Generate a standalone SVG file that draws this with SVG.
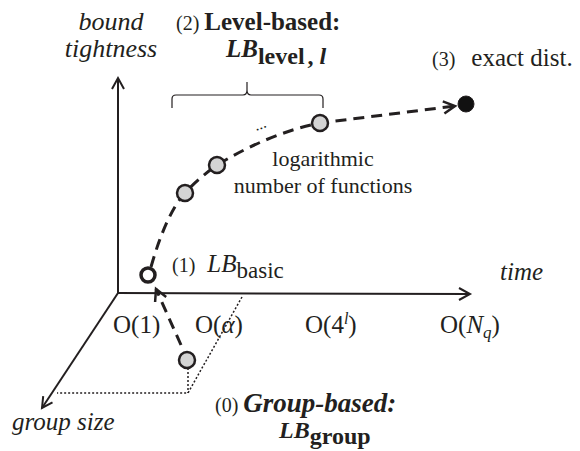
<svg xmlns="http://www.w3.org/2000/svg" width="580" height="451" viewBox="0 0 580 451">
<rect width="580" height="451" fill="#fff"/>
<g id="axes" stroke="#231f20" stroke-width="2" fill="none">
<line x1="118" y1="293" x2="118" y2="78"/>
<line x1="117" y1="293" x2="470" y2="294"/>
<line x1="118" y1="293" x2="42" y2="408"/>
<path d="M112,89 L118,78 L124,89"/>
<path d="M459,288 L470,294 L459,300"/>
<path d="M52.5,402.3 L42,408 L43.2,396.1"/>
</g>
<g id="guides" stroke="#231f20" stroke-width="1.5" fill="none" stroke-dasharray="2 2">
<path d="M242,297 L188,393 L57,393"/>
<path d="M188,368 L188,393"/>
</g>
<g id="connectors" stroke="#231f20" fill="none">
<path d="M181,345 L156,289" stroke-width="3" stroke-dasharray="11 7"/>
<path d="M151,267 C160,235 172,207 185,193 C195,182 206,173 217,165 C250,145 285,130 320,123 L455,106" stroke-width="3" stroke-dasharray="11 7"/>
<path d="M155.1,302 L156,289 L166.2,297" stroke-width="2.5"/>
<path d="M442.8,101.4 L455,106 L444.4,113.5" stroke-width="2.5"/>
</g>
<g id="brace">
<path d="M172,108 L172,99 Q172,95 176,95 L243,95 Q247,95 247,90 L247,82 L247,90 Q247,95 251,95 L319,95 Q323,95 323,99 L323,108" stroke="#231f20" stroke-width="1.2" fill="none"/>
</g>
<g id="nodes" fill="#d4d4d4" stroke="#231f20" stroke-width="2.5">
<g id="node0"><circle cx="187" cy="360" r="8"/></g>
<g id="node1"><circle cx="148" cy="275" r="7" fill="#fff" stroke-width="3.5"/></g>
<g id="nodeA"><circle cx="185" cy="193" r="8"/></g>
<g id="nodeB"><circle cx="217" cy="165" r="8"/></g>
<g id="nodeC"><circle cx="320" cy="123" r="8"/></g>
<g id="node3"><circle cx="466" cy="104" r="8" fill="#111" stroke-width="1"/></g>
</g>
<text font-family="Liberation Serif" style="font-family:'Liberation Serif',serif !important" fill="#231f20" font-size="26" font-style="italic" x="111" y="30" text-anchor="middle">bound</text>
<text font-family="Liberation Serif" style="font-family:'Liberation Serif',serif !important" fill="#231f20" font-size="26" font-style="italic" x="111" y="57" text-anchor="middle">tightness</text>
<text font-family="Liberation Serif" style="font-family:'Liberation Serif',serif !important" fill="#231f20" font-size="20" x="176" y="30">(2)<tspan font-weight="bold" font-size="25" dx="5">Level-based:</tspan></text>
<text font-family="Liberation Serif" style="font-family:'Liberation Serif',serif !important" fill="#231f20" font-size="25" font-weight="bold" x="226" y="57"><tspan font-style="italic">LB</tspan><tspan font-size="24" dy="7">level</tspan><tspan font-size="24" dx="3">, </tspan><tspan font-size="24" font-style="italic">l</tspan></text>
<text font-family="Liberation Serif" style="font-family:'Liberation Serif',serif !important" fill="#231f20" font-size="16" x="256" y="131" transform="rotate(-20 256 131)">...</text>
<text font-family="Liberation Serif" style="font-family:'Liberation Serif',serif !important" fill="#231f20" font-size="22" x="323" y="166" text-anchor="middle">logarithmic</text>
<text font-family="Liberation Serif" style="font-family:'Liberation Serif',serif !important" fill="#231f20" font-size="22" x="323" y="193" text-anchor="middle">number of functions</text>
<text font-family="Liberation Serif" style="font-family:'Liberation Serif',serif !important" fill="#231f20" font-size="20" x="432" y="66">(3)<tspan dx="16" font-size="25">exact dist.</tspan></text>
<text font-family="Liberation Serif" style="font-family:'Liberation Serif',serif !important" fill="#231f20" font-size="20" x="172" y="272">(1)<tspan font-style="italic" dx="12" font-size="25">LB</tspan><tspan dy="6" font-size="23">basic</tspan></text>
<text font-family="Liberation Serif" style="font-family:'Liberation Serif',serif !important" fill="#231f20" font-size="25" font-style="italic" x="500" y="280">time</text>
<text font-family="Liberation Serif" style="font-family:'Liberation Serif',serif !important" fill="#231f20" font-size="25" x="113" y="333">O(1)</text>
<text font-family="Liberation Serif" style="font-family:'Liberation Serif',serif !important" fill="#231f20" font-size="25" x="195" y="333">O(<tspan font-style="italic">α</tspan>)</text>
<text font-family="Liberation Serif" style="font-family:'Liberation Serif',serif !important" fill="#231f20" font-size="25" x="305" y="333">O(4<tspan font-style="italic" font-size="16" dy="-9">l</tspan><tspan dy="9">)</tspan></text>
<text font-family="Liberation Serif" style="font-family:'Liberation Serif',serif !important" fill="#231f20" font-size="25" x="440" y="333">O(<tspan font-style="italic">N</tspan><tspan font-style="italic" font-size="17" dy="5">q</tspan><tspan dy="-5">)</tspan></text>
<text font-family="Liberation Serif" style="font-family:'Liberation Serif',serif !important" fill="#231f20" font-size="20" x="215" y="412">(0)<tspan font-weight="bold" font-style="italic" dx="5" font-size="27">Group-based:</tspan></text>
<text font-family="Liberation Serif" style="font-family:'Liberation Serif',serif !important" fill="#231f20" font-size="24" font-weight="bold" x="279" y="438"><tspan font-style="italic">LB</tspan><tspan dy="6">group</tspan></text>
<text font-family="Liberation Serif" style="font-family:'Liberation Serif',serif !important" fill="#231f20" font-size="25" font-style="italic" x="12" y="430">group size</text>
</svg>
